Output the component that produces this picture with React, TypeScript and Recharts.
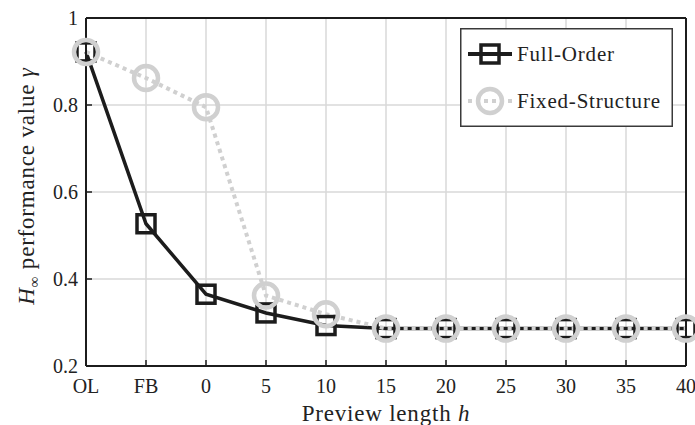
import { LineChart, Line, XAxis, YAxis, CartesianGrid, Legend } from "recharts";

// h∞ performance vs preview length
const categories = ["OL", "FB", "0", "5", "10", "15", "20", "25", "30", "35", "40"];
const fullOrder = [0.922, 0.527, 0.365, 0.322, 0.293, 0.286, 0.286, 0.286, 0.286, 0.286, 0.286];
const fixedStructure = [0.922, 0.862, 0.795, 0.362, 0.319, 0.286, 0.286, 0.286, 0.286, 0.286, 0.286];
const yTicks = [0.2, 0.4, 0.6, 0.8, 1];
const seriesNames = ["Full-Order", "Fixed-Structure"];

const data = categories.map((label, i) => ({
  label,
  full: fullOrder[i],
  fixed: fixedStructure[i],
}));

const FONT = '"Liberation Serif", "Times New Roman", serif';
const DARK = "#1c1c1c";
const GRAY = "#d0d0d0";

const SquareDot = (props: any) => {
  const { cx, cy, index } = props;
  if (cx == null || cy == null) return null;
  return (
    <rect
      key={`sq-${index}`}
      x={cx - 9}
      y={cy - 9}
      width={18}
      height={18}
      fill="none"
      stroke={DARK}
      strokeWidth={3.5}
    />
  );
};

const CircleDot = (props: any) => {
  const { cx, cy, index } = props;
  if (cx == null || cy == null) return null;
  return <circle key={`ci-${index}`} cx={cx} cy={cy} r={12} fill="none" stroke={GRAY} strokeWidth={4.5} />;
};

const YLabel = ({ viewBox }: any) => {
  const x = viewBox.x + 34;
  const y = viewBox.y + viewBox.height / 2 - 6;
  return (
    <text
      x={x}
      y={y}
      transform={`rotate(-90, ${x}, ${y})`}
      textAnchor="middle"
      fontFamily={FONT}
      fontSize={23}
      letterSpacing={0.8}
      fill="#222"
    >
      <tspan fontStyle="italic">H</tspan>
      <tspan fontSize={15} dy={5}>∞</tspan>
      <tspan dy={-5}> performance value </tspan>
      <tspan fontStyle="italic">γ</tspan>
    </text>
  );
};

const XLabel = ({ viewBox }: any) => (
  <text
    x={viewBox.x + viewBox.width / 2}
    y={viewBox.y + 55}
    textAnchor="middle"
    fontFamily={FONT}
    fontSize={23}
    letterSpacing={0.8}
    fill="#222"
  >
    Preview length <tspan fontStyle="italic">h</tspan>
  </text>
);

const LegendBox = () => (
  <svg width={213} height={99} style={{ display: "block" }}>
    <rect x={0.75} y={0.75} width={211.5} height={97.5} fill="#fff" stroke="#3a3a3a" strokeWidth={1.5} />
    <line x1={8} x2={52} y1={26} y2={26} stroke={DARK} strokeWidth={4} />
    <rect x={21} y={17} width={18} height={18} fill="none" stroke={DARK} strokeWidth={3.5} />
    <text x={57} y={26} dominantBaseline="central" fontFamily={FONT} fontSize={21} letterSpacing={0.8} fill="#222">
      {seriesNames[0]}
    </text>
    <line x1={8} x2={52} y1={73} y2={73} stroke={GRAY} strokeWidth={4} strokeDasharray="4 4" />
    <circle cx={30} cy={73} r={12} fill="none" stroke={GRAY} strokeWidth={4.5} />
    <text x={57} y={73} dominantBaseline="central" fontFamily={FONT} fontSize={21} letterSpacing={0.8} fill="#222">
      {seriesNames[1]}
    </text>
  </svg>
);

export default function App() {
  const tickStyle = { fontFamily: FONT, fontSize: 20, fill: "#222" };
  return (
    <div style={{ position: "absolute", left: 0, top: 0 }}>
      <LineChart width={695} height={425} data={data} margin={{ top: 0, right: 0, bottom: 0, left: 0 }}>
        <CartesianGrid stroke="#d9d9d9" strokeWidth={1.5} />
        <XAxis
          dataKey="label"
          interval={0}
          height={59}
          tick={tickStyle}
          tickSize={-6}
          tickMargin={19}
          axisLine={{ stroke: DARK, strokeWidth: 2 }}
          tickLine={{ stroke: DARK, strokeWidth: 1.5 }}
          label={<XLabel />}
        />
        <XAxis
          xAxisId="top"
          orientation="top"
          dataKey="label"
          interval={0}
          height={18}
          tick={false}
          tickSize={-6}
          axisLine={{ stroke: DARK, strokeWidth: 2 }}
          tickLine={{ stroke: DARK, strokeWidth: 1.5 }}
        />
        <YAxis
          type="number"
          domain={[0.2, 1]}
          ticks={yTicks}
          width={86}
          tick={tickStyle}
          tickSize={-6}
          tickMargin={14}
          axisLine={{ stroke: DARK, strokeWidth: 2 }}
          tickLine={{ stroke: DARK, strokeWidth: 1.5 }}
          label={<YLabel />}
        />
        <YAxis
          yAxisId="right"
          orientation="right"
          type="number"
          domain={[0.2, 1]}
          ticks={yTicks}
          width={9}
          tick={false}
          tickSize={-6}
          axisLine={{ stroke: DARK, strokeWidth: 2 }}
          tickLine={{ stroke: DARK, strokeWidth: 1.5 }}
        />
        <Legend
          layout="horizontal"
          align="center"
          verticalAlign="middle"
          wrapperStyle={{ left: 460, top: 28, width: 213, height: 99 }}
          content={<LegendBox />}
        />
        <Line
          dataKey="full"
          name={seriesNames[0]}
          stroke={DARK}
          strokeWidth={3.5}
          dot={SquareDot}
          activeDot={false}
          isAnimationActive={false}
        />
        <Line
          dataKey="fixed"
          name={seriesNames[1]}
          xAxisId="top"
          yAxisId="right"
          stroke={GRAY}
          strokeWidth={4}
          strokeDasharray="4 4"
          dot={CircleDot}
          activeDot={false}
          isAnimationActive={false}
        />
      </LineChart>
    </div>
  );
}
